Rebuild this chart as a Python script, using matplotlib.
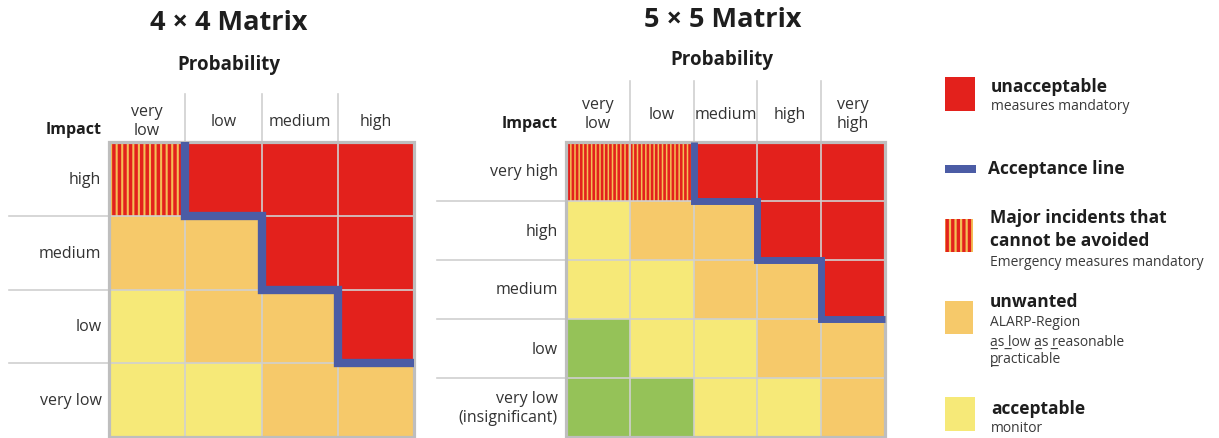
import matplotlib
matplotlib.use('Agg')
import matplotlib.pyplot as plt
from matplotlib.patches import Rectangle

plt.rcParams['font.family'] = ['Open Sans', 'DejaVu Sans']
plt.rcParams['hatch.linewidth'] = 2.4

# ---------------- data ----------------
titles = ['4 × 4 Matrix', '5 × 5 Matrix']
prob_4 = ['very\nlow', 'low', 'medium', 'high']
impact_4 = ['high', 'medium', 'low', 'very low']
grid_4 = [['S', 'R', 'R', 'R'],
          ['O', 'O', 'R', 'R'],
          ['Y', 'O', 'O', 'R'],
          ['Y', 'Y', 'O', 'O']]
accept_4 = [1, 2, 3]          # first unacceptable column per row (acceptance steps)

prob_5 = ['very\nlow', 'low', 'medium', 'high', 'very\nhigh']
impact_5 = ['very high', 'high', 'medium', 'low', 'very low\n(insignificant)']
grid_5 = [['S', 'S', 'R', 'R', 'R'],
          ['Y', 'O', 'O', 'R', 'R'],
          ['Y', 'Y', 'O', 'O', 'R'],
          ['G', 'Y', 'Y', 'O', 'O'],
          ['G', 'G', 'Y', 'Y', 'O']]
accept_5 = [2, 3, 4]

RED = '#E3211C'
ORANGE = '#F6C96A'
YELLOW = '#F6E978'
GREEN = '#95C258'
STRIPE_BG = '#F3BE55'
BLUE = '#4B5CA5'
colors = {'R': RED, 'O': ORANGE, 'Y': YELLOW, 'G': GREEN, 'S': STRIPE_BG}

W, H = 1219, 439
fig = plt.figure(figsize=(W / 100, H / 100), dpi=100)

def frac(x0, y0, x1, y1):
    return [x0 / W, 1 - y1 / H, (x1 - x0) / W, (y1 - y0) / H]

TXT = '#333333'
BOLD = '#1e1e1e'

def striped(xy, w, h, hatch, hlw, **kw):
    p = Rectangle(xy, w, h, facecolor=STRIPE_BG, edgecolor=RED, hatch=hatch,
                  linewidth=0, **kw)
    if hasattr(p, 'set_hatch_linewidth'):
        p.set_hatch_linewidth(hlw)
    return p

def draw_matrix(ax, grid, probs, impacts, steps, title, geo):
    n = len(grid)
    ax.set_xlim(0, n)
    ax.set_ylim(n, 0)
    ax.axis('off')
    for i, row in enumerate(grid):
        for j, c in enumerate(row):
            if c == 'S':
                ax.add_patch(striped((j, i), 1, 1, geo['hatch'], geo['hlw'], zorder=1))
            else:
                ax.add_patch(Rectangle((j, i), 1, 1, facecolor=colors[c],
                                       linewidth=0, zorder=1))
    gl = '#D0D0D0'
    for k in range(1, n):
        ax.plot([k, k], [geo['col_top'], n], color=gl, lw=1.2, zorder=2, clip_on=False)
        ax.plot([geo['row_left'], n], [k, k], color=gl, lw=1.2, zorder=2, clip_on=False)
    ax.add_patch(Rectangle((0, 0), n, n, fill=False, edgecolor='#BEBEBE', lw=2.3,
                           zorder=3, clip_on=False))
    # acceptance line
    pts = [(steps[0], 0)]
    for i, a in enumerate(steps):
        pts.append((a, i + 1))
        nxt = steps[i + 1] if i + 1 < len(steps) else n
        pts.append((nxt, i + 1))
    xs, ys = zip(*pts)
    ax.plot(xs, ys, color=BLUE, lw=geo['blw'], solid_joinstyle='miter',
            solid_capstyle='butt', zorder=4, clip_on=False)
    # labels
    for j, p in enumerate(probs):
        ax.text(j + 0.5, geo['col_y'], p, ha='center', va='center', fontsize=11.5,
                color=TXT, linespacing=1.25, clip_on=False)
    for i, p in enumerate(impacts):
        ax.text(geo['lab_x'], i + 0.5, p, ha='right', va='center', fontsize=11.5,
                color=TXT, linespacing=1.3, clip_on=False)
    ax.text(geo['lab_x'], geo['imp_y'], 'Impact', ha='right', va='center', fontsize=11.5,
            fontweight='bold', color=BOLD)
    ax.text(geo['tx'], geo['title_y'], title, ha='center', va='center', fontsize=19.5,
            fontweight='bold', color=BOLD)
    ax.text(geo['tx'], geo['prob_y'], 'Probability', ha='center', va='center',
            fontsize=13.5, fontweight='bold', color=BOLD)

# legend axes in pixel coordinates
lax = fig.add_axes([0, 0, 1, 1])
lax.set_xlim(0, W)
lax.set_ylim(H, 0)
lax.axis('off')

ax4 = fig.add_axes(frac(109, 143, 414, 438))
draw_matrix(ax4, grid_4, prob_4, impact_4, accept_4, titles[0],
            dict(col_top=-0.65, row_left=-1.31, col_y=-0.29, lab_x=-0.1, imp_y=-0.17,
                 tx=1.57, title_y=-1.63, prob_y=-1.06, blw=6.0, hatch='|||', hlw=2.5))

ax5 = fig.add_axes(frac(566, 143, 885, 438))
draw_matrix(ax5, grid_5, prob_5, impact_5, accept_5, titles[1],
            dict(col_top=-1.03, row_left=-2.02, col_y=-0.48, lab_x=-0.13, imp_y=-0.33,
                 tx=2.45, title_y=-2.08, prob_y=-1.4, blw=5.0, hatch='||||', hlw=1.9))

# legend
lax.add_patch(Rectangle((945, 78), 30, 34, facecolor=RED, edgecolor='none'))
lax.add_patch(Rectangle((945, 166), 31, 8, facecolor=BLUE, edgecolor='none'))
lax.add_patch(striped((945, 220), 28, 33, '|||', 2.4))
lax.add_patch(Rectangle((945, 302), 28, 33, facecolor=ORANGE, edgecolor='none'))
lax.add_patch(Rectangle((945, 398), 30, 34, facecolor=YELLOW, edgecolor='none'))

SUB = '#3a3a3a'
lax.text(991, 87, 'unacceptable', fontsize=12.5, fontweight='bold', color=BOLD, va='center')
lax.text(991, 107, 'measures mandatory', fontsize=10, color=SUB, va='center')
lax.text(988, 169, 'Acceptance line', fontsize=12.5, fontweight='bold', color=BOLD, va='center')
lax.text(990, 218, 'Major incidents that', fontsize=12.5, fontweight='bold', color=BOLD, va='center')
lax.text(990, 241, 'cannot be avoided', fontsize=12.5, fontweight='bold', color=BOLD, va='center')
lax.text(990, 263, 'Emergency measures mandatory', fontsize=10, color=SUB, va='center')
lax.text(990, 302, 'unwanted', fontsize=12.5, fontweight='bold', color=BOLD, va='center')
lax.text(990, 323, 'ALARP-Region', fontsize=10, color=SUB, va='center')
lax.text(990, 342, 'a\u0332s l\u0332ow a\u0332s r\u0332easonable', fontsize=10, color=SUB, va='center')
lax.text(990, 360, 'p\u0332racticable', fontsize=10, color=SUB, va='center')
lax.text(991, 409, 'acceptable', fontsize=12.5, fontweight='bold', color=BOLD, va='center')
lax.text(991, 429, 'monitor', fontsize=10, color=SUB, va='center')

fig.savefig('out.png', dpi=100)
